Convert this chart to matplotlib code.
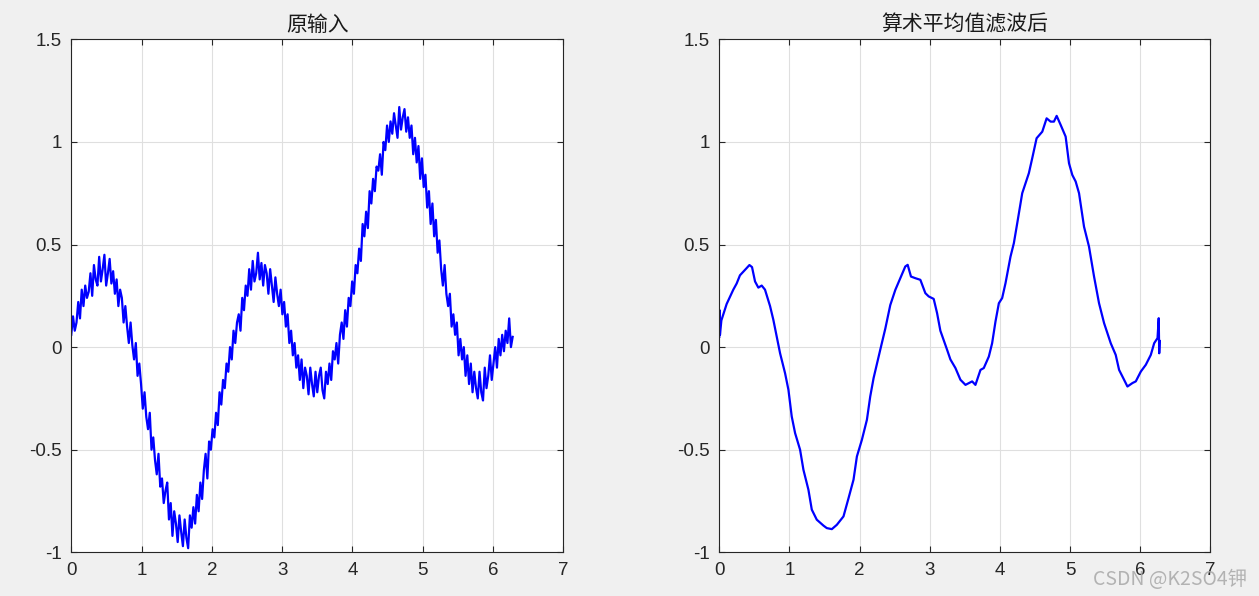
import numpy as np
import matplotlib
matplotlib.use("Agg")
import matplotlib.pyplot as plt

plt.rcParams['font.family'] = ['Liberation Sans', 'Noto Sans CJK SC', 'DejaVu Sans']

#### chart text
titles = ['原输入', '算术平均值滤波后']
x_ticks = [0, 1, 2, 3, 4, 5, 6, 7]
x_tick_labels = ['0', '1', '2', '3', '4', '5', '6', '7']
y_ticks = [-1, -0.5, 0, 0.5, 1, 1.5]
y_tick_labels = ['-1', '-0.5', '0', '0.5', '1', '1.5']
watermark = 'CSDN @K2SO4钾'

#### noisy input (even steps from 0 to ~2*pi)
noisy_y = [
    0.06, 0.15, 0.08, 0.12, 0.22, 0.14, 0.28, 0.20,
    0.30, 0.24, 0.27, 0.36, 0.25, 0.40, 0.33, 0.30,
    0.44, 0.32, 0.38, 0.45, 0.30, 0.36, 0.43, 0.31,
    0.37, 0.26, 0.33, 0.20, 0.28, 0.24, 0.12, 0.20,
    0.10, 0.02, 0.12, 0.01, -0.06, 0.02, -0.14, -0.08,
    -0.18, -0.30, -0.22, -0.34, -0.40, -0.32, -0.50, -0.44,
    -0.55, -0.62, -0.52, -0.68, -0.64, -0.76, -0.70, -0.66,
    -0.84, -0.76, -0.92, -0.80, -0.86, -0.95, -0.82, -0.90,
    -0.97, -0.84, -0.93, -0.98, -0.82, -0.88, -0.78, -0.86,
    -0.72, -0.80, -0.66, -0.74, -0.60, -0.52, -0.64, -0.46,
    -0.50, -0.40, -0.44, -0.32, -0.38, -0.22, -0.28, -0.16,
    -0.20, -0.08, -0.12, 0.00, -0.06, 0.08, 0.02, 0.12,
    0.16, 0.08, 0.24, 0.18, 0.30, 0.25, 0.38, 0.28,
    0.42, 0.32, 0.36, 0.46, 0.33, 0.41, 0.30, 0.40,
    0.36, 0.26, 0.38, 0.30, 0.22, 0.34, 0.26, 0.20,
    0.28, 0.16, 0.22, 0.10, 0.16, 0.02, 0.08, -0.04,
    0.02, -0.10, -0.04, -0.16, -0.06, -0.20, -0.10, -0.14,
    -0.23, -0.10, -0.18, -0.24, -0.12, -0.22, -0.14, -0.10,
    -0.21, -0.25, -0.12, -0.18, -0.08, -0.16, -0.02, -0.06,
    0.02, -0.08, 0.06, 0.12, 0.04, 0.18, 0.10, 0.24,
    0.20, 0.32, 0.26, 0.40, 0.36, 0.48, 0.42, 0.60,
    0.54, 0.66, 0.58, 0.76, 0.70, 0.82, 0.76, 0.88,
    0.86, 0.94, 0.84, 1.00, 0.96, 1.08, 1.00, 1.10,
    1.04, 1.14, 1.08, 1.02, 1.17, 1.06, 1.12, 1.16,
    1.05, 1.12, 1.02, 1.08, 0.94, 1.02, 0.90, 0.98,
    0.82, 0.92, 0.78, 0.84, 0.68, 0.76, 0.60, 0.70,
    0.54, 0.62, 0.46, 0.52, 0.38, 0.30, 0.40, 0.26,
    0.20, 0.26, 0.10, 0.16, 0.06, 0.12, -0.04, 0.04,
    -0.06, 0.00, -0.14, -0.04, -0.18, -0.08, -0.22, -0.12,
    -0.20, -0.25, -0.12, -0.22, -0.26, -0.10, -0.20, -0.14,
    -0.04, -0.16, -0.08, 0.00, -0.10, 0.04, -0.04, 0.06,
    -0.02, 0.08, 0.02, 0.14, 0.00, 0.05,
]
noisy_x = np.linspace(0, 6.28, len(noisy_y))

#### filtered output
smooth_x = [0.00, 0.005, 0.01, 0.03, 0.105, 0.20, 0.248, 0.295, 0.39, 0.43,
            0.467, 0.51, 0.557, 0.605, 0.652, 0.724, 0.771, 0.867, 0.938, 0.986,
            1.033, 1.081, 1.152, 1.20, 1.271, 1.319, 1.39, 1.486, 1.533, 1.605,
            1.676, 1.771, 1.843, 1.914, 1.962, 2.033, 2.105, 2.152, 2.20, 2.295,
            2.367, 2.438, 2.51, 2.581, 2.652, 2.686, 2.733, 2.795, 2.867, 2.938,
            2.986, 3.057, 3.105, 3.152, 3.248, 3.295, 3.367, 3.438, 3.51, 3.605,
            3.652, 3.724, 3.771, 3.843, 3.89, 3.938, 3.986, 4.033, 4.081, 4.152,
            4.20, 4.248, 4.319, 4.414, 4.462, 4.524, 4.605, 4.667, 4.724, 4.771,
            4.81, 4.867, 4.938, 4.986, 5.033, 5.081, 5.129, 5.20, 5.271, 5.343,
            5.414, 5.486, 5.581, 5.652, 5.70, 5.771, 5.819, 5.891, 5.938, 6.01,
            6.081, 6.152, 6.20, 6.248, 6.265, 6.272, 6.28]
smooth_y = [0.05, 0.18, 0.06, 0.13, 0.21, 0.28, 0.31, 0.35, 0.385, 0.40,
            0.39, 0.32, 0.29, 0.30, 0.28, 0.20, 0.133, -0.03, -0.127, -0.208,
            -0.338, -0.419, -0.50, -0.598, -0.695, -0.792, -0.841, -0.870, -0.882, -0.887,
            -0.866, -0.825, -0.736, -0.646, -0.533, -0.452, -0.354, -0.241, -0.151, -0.013,
            0.09, 0.205, 0.279, 0.336, 0.393, 0.401, 0.344, 0.336, 0.328, 0.263,
            0.247, 0.235, 0.166, 0.08, -0.013, -0.06, -0.102, -0.159, -0.184, -0.167,
            -0.184, -0.111, -0.102, -0.046, 0.019, 0.125, 0.214, 0.239, 0.312, 0.441,
            0.507, 0.604, 0.75, 0.848, 0.921, 1.018, 1.05, 1.115, 1.099, 1.099,
            1.127, 1.083, 1.026, 0.896, 0.839, 0.807, 0.75, 0.587, 0.49, 0.344,
            0.214, 0.117, 0.019, -0.038, -0.111, -0.159, -0.192, -0.175, -0.167, -0.119,
            -0.086, -0.038, 0.019, 0.044, 0.141, -0.03, 0.03]

fig = plt.figure(figsize=(12.59, 5.96), dpi=100, facecolor='#f0f0f0')
ax1 = fig.add_axes([0.0566, 0.0733, 0.3908, 0.8607])
ax2 = fig.add_axes([0.5713, 0.0733, 0.3900, 0.8607])

ax1.plot(noisy_x, noisy_y, color='#0000ff', lw=1.6)
ax2.plot(smooth_x, smooth_y, color='#0000ff', lw=1.6)

for ax, title in zip([ax1, ax2], titles):
    ax.set_facecolor('white')
    ax.set_xlim(0, 7)
    ax.set_ylim(-1, 1.5)
    ax.set_xticks(x_ticks)
    ax.set_xticklabels(x_tick_labels)
    ax.set_yticks(y_ticks)
    ax.set_yticklabels(y_tick_labels)
    ax.grid(True, color='#dfdfdf', lw=0.8)
    ax.set_axisbelow(True)
    ax.tick_params(direction='in', top=True, right=True, length=4, width=0.8,
                   colors='#262626', labelsize=13.5, pad=7)
    for s in ax.spines.values():
        s.set_color('#262626')
        s.set_linewidth(0.8)
    ax.set_title(title, family=['Noto Sans CJK SC'], fontsize=15, color='#1a1a1a', pad=6)

# watermark sits over the last tick labels, as in the source image
fig.text(1093 / 1259, 11 / 596, watermark, family=['Noto Sans CJK SC', 'DejaVu Sans'],
         fontsize=14, color='#a8a8a8', alpha=0.85, ha='left', va='baseline')

fig.savefig('out.png', dpi=100, facecolor=fig.get_facecolor())
